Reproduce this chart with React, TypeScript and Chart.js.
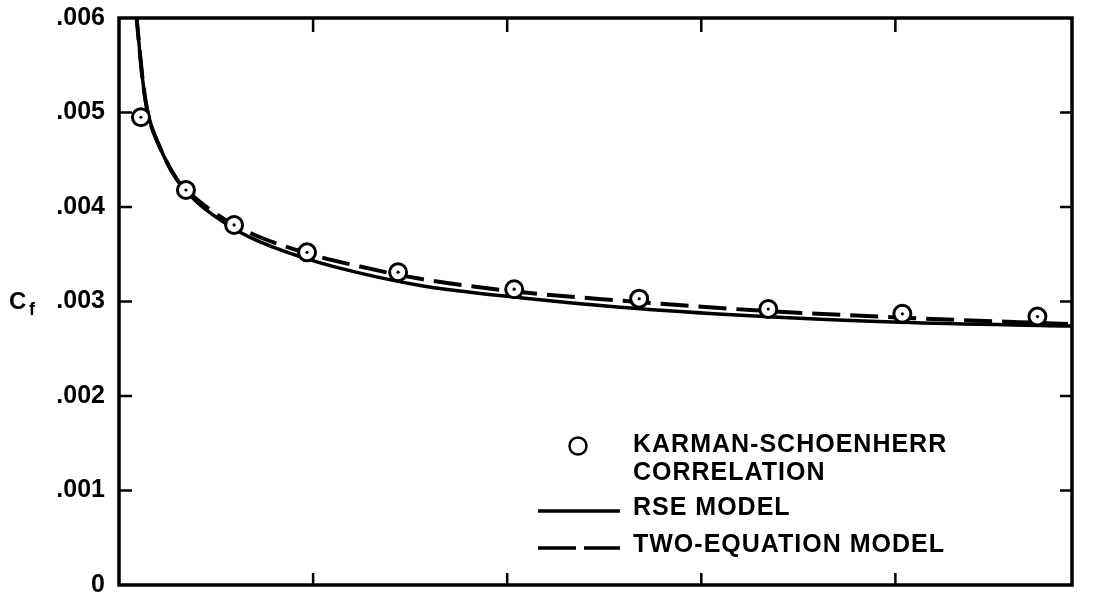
import { useEffect, useRef } from "react";
import { Chart, registerables } from "chart.js";

Chart.register(...registerables);

const FONT = '"Liberation Sans", Arial, Helvetica, sans-serif';

// Karman-Schoenherr correlation (circles)
const xKarman = [0.113, 0.345, 0.593, 0.969, 1.438, 2.036, 2.68, 3.345, 4.036, 4.732];
const cfKarman = [0.00495, 0.00418, 0.00381, 0.00352, 0.00331, 0.00313, 0.00303, 0.00292, 0.00287, 0.00284];

// RSE model (solid)
const xRse = [0.088, 0.093, 0.124, 0.149, 0.211, 0.299, 0.402, 0.593, 0.727, 0.985, 1.242, 1.552, 2.067, 2.582, 3.253, 4.026, 4.91];
const cfRse = [0.00606, 0.00595, 0.00531, 0.00499, 0.00463, 0.00429, 0.00405, 0.00377, 0.00363, 0.00344, 0.0033, 0.00317, 0.00304, 0.00294, 0.00285, 0.00278, 0.00274];

// Two-equation model (dashed)
const xTwoEq = [0.088, 0.093, 0.124, 0.149, 0.211, 0.299, 0.402, 0.593, 0.727, 0.985, 1.242, 1.552, 2.067, 2.582, 3.253, 4.026, 4.91];
const cfTwoEq = [0.00606, 0.00595, 0.00531, 0.00499, 0.00463, 0.00429, 0.00408, 0.00381, 0.00368, 0.0035, 0.00337, 0.00324, 0.0031, 0.00301, 0.00291, 0.00283, 0.00276];

const yTickValues = [0, 0.001, 0.002, 0.003, 0.004, 0.005, 0.006];
const yTickLabels = ["0", ".001", ".002", ".003", ".004", ".005", ".006"];
const xTickValues = [1, 2, 3, 4];
const X_MAX = 4.91;

const legendLines = ["KARMAN-SCHOENHERR", "CORRELATION", "RSE MODEL", "TWO-EQUATION MODEL"];

const pts = (xs: number[], ys: number[]) => xs.map((x, i) => ({ x, y: ys[i] }));

export default function App() {
  const ref = useRef<HTMLCanvasElement>(null);

  useEffect(() => {
    const canvas = ref.current;
    if (!canvas) return;

    const framePlugin = {
      id: "framePlugin",
      beforeDraw(chart: any) {
        const c = chart.ctx;
        c.save();
        c.fillStyle = "#fff";
        c.fillRect(0, 0, chart.width, chart.height);
        c.restore();
      },
      afterDatasetsDraw(chart: any) {
        const c = chart.ctx as CanvasRenderingContext2D;
        const { left, right, top, bottom } = chart.chartArea;
        const xs = chart.scales.x;
        const ys = chart.scales.y;
        c.save();
        c.strokeStyle = "#000";
        c.fillStyle = "#000";
        c.lineWidth = 3.5;
        c.lineJoin = "miter";
        c.strokeRect(left, top, right - left, bottom - top);

        // inner ticks
        c.lineWidth = 2.5;
        c.beginPath();
        yTickValues.forEach((v) => {
          if (v <= 0 || v >= 0.006) return;
          const py = ys.getPixelForValue(v);
          c.moveTo(left, py);
          c.lineTo(left + 13, py);
          c.moveTo(right, py);
          c.lineTo(right - 12, py);
        });
        xTickValues.forEach((v) => {
          const px = xs.getPixelForValue(v);
          c.moveTo(px, bottom);
          c.lineTo(px, bottom - 12);
          c.moveTo(px, top);
          c.lineTo(px, top + 14);
        });
        c.stroke();

        // legend
        const tx = 633;
        c.lineWidth = 2.5;
        c.beginPath();
        c.arc(578, 446, 8.5, 0, Math.PI * 2);
        c.stroke();

        c.lineWidth = 3.5;
        c.lineCap = "butt";
        c.beginPath();
        c.moveTo(538, 511);
        c.lineTo(620, 511);
        c.moveTo(538, 548);
        c.lineTo(576, 548);
        c.moveTo(584, 548);
        c.lineTo(620, 548);
        c.stroke();

        c.font = `bold 25px ${FONT}`;
        (c as any).letterSpacing = "1px";
        c.textBaseline = "alphabetic";
        c.textAlign = "left";
        c.fillText(legendLines[0], tx, 452);
        c.fillText(legendLines[1], tx, 480);
        c.fillText(legendLines[2], tx, 515);
        c.fillText(legendLines[3], tx, 552);

        // axis title C_f
        (c as any).letterSpacing = "0px";
        c.font = `bold 24px ${FONT}`;
        c.fillText("C", 9, 309);
        c.font = `bold 18px ${FONT}`;
        c.fillText("f", 29, 315);
        c.restore();
      },
    };

    const chart = new Chart(canvas, {
      type: "scatter",
      data: {
        datasets: [
          {
            label: "centers",
            data: pts(xKarman, cfKarman),
            showLine: false,
            pointRadius: 1.6,
            pointBorderWidth: 0,
            pointBackgroundColor: "#000",
          },
          {
            label: "KARMAN-SCHOENHERR CORRELATION",
            data: pts(xKarman, cfKarman),
            showLine: false,
            pointRadius: 8.5,
            pointBorderWidth: 3,
            pointBorderColor: "#000",
            pointBackgroundColor: "#fff",
          },
          {
            label: "RSE MODEL",
            data: pts(xRse, cfRse),
            showLine: true,
            borderColor: "#000",
            borderWidth: 3.5,
            pointRadius: 0,
            cubicInterpolationMode: "monotone",
            fill: false,
          },
          {
            label: "TWO-EQUATION MODEL",
            data: pts(xTwoEq, cfTwoEq),
            showLine: true,
            borderColor: "#000",
            borderWidth: 4,
            borderDash: [28, 10],
            pointRadius: 0,
            cubicInterpolationMode: "monotone",
            fill: false,
          },
        ],
      } as any,
      options: {
        responsive: false,
        animation: false,
        events: [],
        layout: { padding: { left: 0, right: 25, top: 18, bottom: 18 } },
        plugins: { legend: { display: false }, tooltip: { enabled: false } },
        scales: {
          x: { type: "linear", min: 0, max: X_MAX, display: false },
          y: {
            type: "linear",
            min: 0,
            max: 0.006,
            afterFit(scale: any) {
              scale.width = 119;
              scale.paddingTop = 0;
              scale.paddingBottom = 0;
            },
            grid: { display: false, drawTicks: false },
            border: { display: false },
            ticks: {
              stepSize: 0.001,
              padding: 14,
              color: "#000",
              font: { family: FONT, size: 25, weight: "bold" },
              callback: (v: any) => yTickLabels[Math.round(Number(v) * 1000)] ?? "",
            },
          },
        },
      } as any,
      plugins: [framePlugin],
    });

    return () => chart.destroy();
  }, []);

  return (
    <div style={{ position: "fixed", left: 0, top: 0, width: 1097, height: 603, background: "#fff" }}>
      <canvas ref={ref} width={1097} height={603} style={{ display: "block" }} />
    </div>
  );
}
